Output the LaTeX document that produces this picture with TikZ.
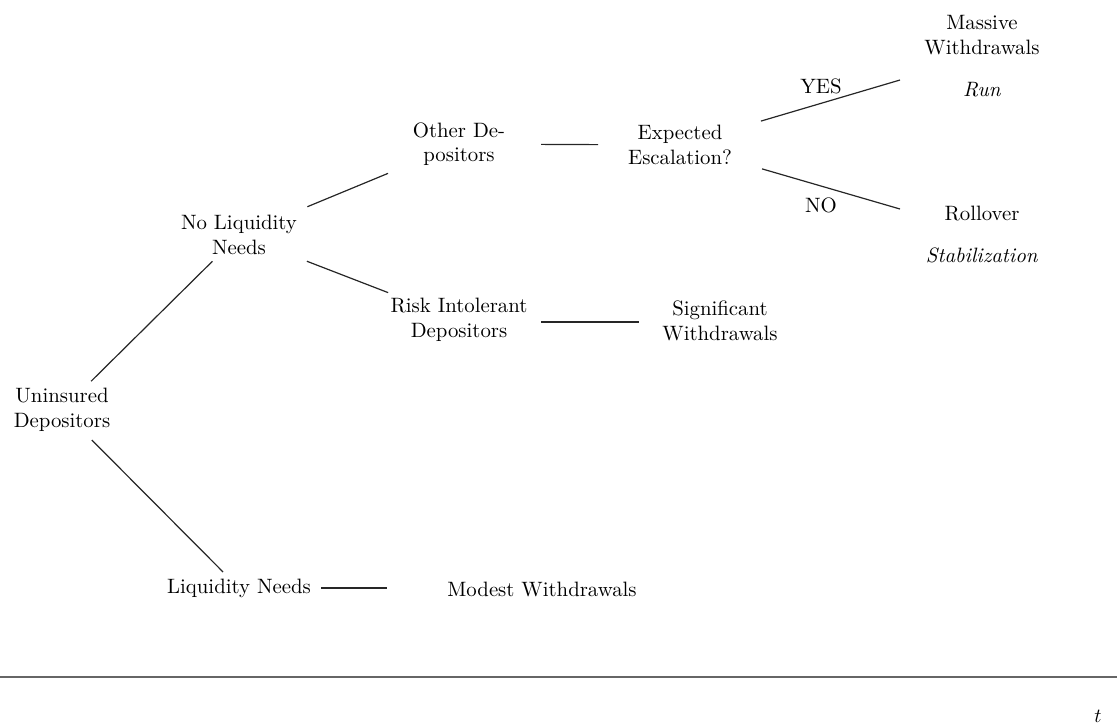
\documentclass[tikz,border=0pt]{standalone}
\begin{document}
\begin{tikzpicture}[x=0.5pt,y=-0.5pt,
  lbl/.style={align=center,font=\fontsize{10.4}{12.3}\selectfont,inner sep=0pt},
  conn/.style={line width=0.6pt,black!85}]
\useasboundingbox (0,0) rectangle (1117,725);
% nodes
\node[lbl] (u)   at (62,410)  {Uninsured\\Depositors};
\node[lbl] (nl)  at (239,235) {No Liquidity\\Needs};
\node[lbl] (ln)  at (239,588) {Liquidity Needs};
\node[lbl] (mw)  at (542,589) {Modest Withdrawals};
\node[lbl] (od)  at (459,144) {Other De-\\positors};
\node[lbl] (ee)  at (680,145) {Expected\\Escalation?};
\node[lbl] (ri)  at (459,320) {Risk Intolerant\\Depositors};
\node[lbl] (sw)  at (720,321) {Significant\\Withdrawals};
\node[lbl] (maw) at (982,35)  {Massive\\Withdrawals};
\node[lbl] (run) at (982,90)  {\textit{Run}};
\node[lbl] (ro)  at (982,213) {Rollover};
\node[lbl] (st)  at (982,255) {\textit{Stabilization}};
\node[lbl] (yes) at (821,86)  {YES};
\node[lbl] (no)  at (821,205) {NO};
\node[lbl] (t)   at (1098,716) {$t$};
\coordinate (yend) at (900,80);
\coordinate (nend) at (900,209);
\coordinate (axl) at (0,677);
\coordinate (axr) at (1117,677);
% connectors
\draw[conn,shorten <=20.5pt,shorten >=18.7pt] (u.center) -- (nl.center);
\draw[conn,shorten <=21.2pt,shorten >=11.3pt] (u.center) -- (ln.center);
\draw[conn,shorten <=37pt,shorten >=38.4pt] (nl.center) -- (od.center);
\draw[conn,shorten <=36.4pt,shorten >=38pt] (nl.center) -- (ri.center);
\draw[conn,shorten <=41pt,shorten >=41pt] (od.center) -- (ee.center);
\draw[conn] ([shift={(41pt,-1pt)}]ri.center) -- ([shift={(-40.5pt,-0.5pt)}]sw.center);
\draw[conn] ([xshift=41pt]ln.center) -- ([xshift=-77.5pt]mw.center |- ln.center);
\draw[conn,shorten <=42.2pt] (ee.center) -- (yend);
\draw[conn,shorten <=42.7pt] (ee.center) -- (nend);
\draw[line width=1pt,black!60] (axl) -- (axr);
\end{tikzpicture}
\end{document}
